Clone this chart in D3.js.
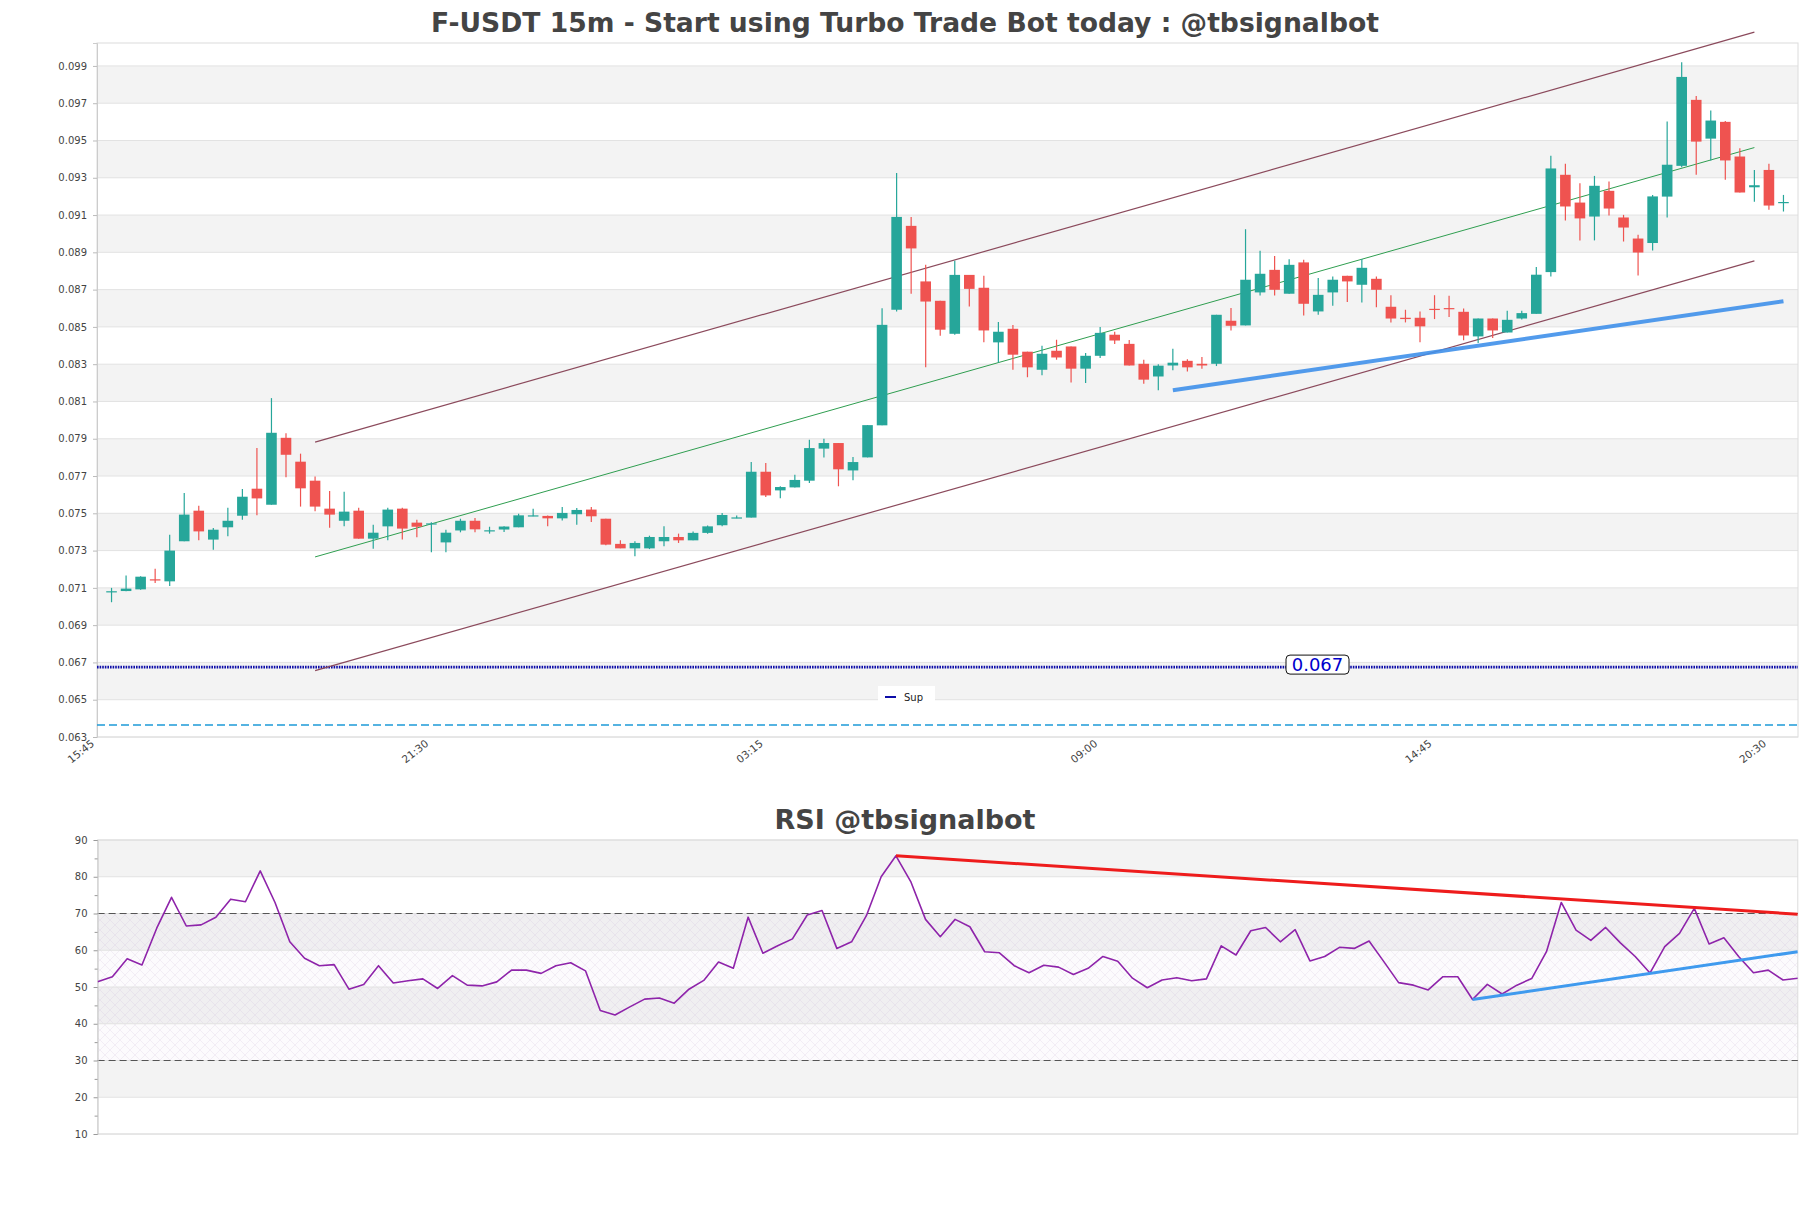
<!DOCTYPE html>
<html>
<head>
<meta charset="utf-8">
<script src="https://cdn.jsdelivr.net/npm/d3@7"></script>
<style>
  html, body { margin: 0; padding: 0; background: #fff; }
  svg { display: block; font-family: "DejaVu Sans", sans-serif; }
</style>
</head>
<body>
<svg id="chart" width="1811" height="1208"></svg>
<script>
// ---------------- DATA ----------------
const opens = [0.0708,0.07083,0.07092,0.07146,0.07135,0.0735,0.07514,0.07359,0.07425,0.07487,
0.07632,0.07546,0.07905,0.07777,0.07675,0.07525,0.0746,0.07514,0.07364,0.0743,
0.07525,0.0745,0.0744,0.07344,0.07408,0.0746,0.07404,0.07413,0.07425,0.07486,
0.07486,0.07473,0.07495,0.0752,0.07471,0.07336,0.07312,0.07312,0.0735,0.07373,
0.07355,0.07395,0.07436,0.07475,0.07477,0.07723,0.07623,0.07639,0.07675,0.07847,
0.07877,0.0773,0.078,0.07972,0.08592,0.09042,0.08744,0.0864,0.08463,0.08779,
0.0871,0.08417,0.0849,0.08367,0.0827,0.08372,0.08395,0.08276,0.08345,0.08458,
0.08409,0.08302,0.08234,0.08293,0.08318,0.08302,0.08302,0.08533,0.08508,0.08685,
0.08806,0.08678,0.08846,0.08583,0.08685,0.08774,0.08726,0.08758,0.08608,0.08549,
0.08549,0.08597,0.08601,0.08581,0.08449,0.08545,0.0847,0.08545,0.0857,0.08794,
0.09316,0.09167,0.09092,0.0923,0.09087,0.08974,0.0895,0.09199,0.09364,0.09718,
0.0951,0.096,0.09414,0.09249,0.09342,0.09167];
const closes = [0.07082,0.07096,0.0716,0.07141,0.073,0.07493,0.07403,0.07412,0.0746,0.07589,
0.0758,0.07932,0.07814,0.07634,0.07536,0.07493,0.07509,0.07364,0.07396,0.0752,
0.07418,0.07428,0.07446,0.07396,0.0746,0.07414,0.07409,0.07429,0.07489,0.07489,
0.07473,0.07502,0.07518,0.07484,0.07332,0.07312,0.07341,0.07373,0.07373,0.07355,
0.07395,0.0743,0.07491,0.07478,0.07723,0.07596,0.07641,0.07679,0.0785,0.07877,
0.07736,0.07775,0.07973,0.08511,0.0909,0.08921,0.08636,0.08485,0.08779,0.08704,
0.08481,0.08474,0.08351,0.08283,0.08356,0.08336,0.08276,0.08345,0.08468,0.08427,
0.08293,0.08217,0.08292,0.08308,0.08283,0.08293,0.08565,0.08506,0.08753,0.08785,
0.08699,0.08833,0.08624,0.08672,0.08753,0.08744,0.08817,0.08699,0.08545,0.08542,
0.08503,0.08594,0.08597,0.08454,0.08545,0.08481,0.08538,0.08574,0.0878,0.0935,
0.09146,0.09082,0.09257,0.09135,0.09033,0.08899,0.092,0.0937,0.09841,0.09494,
0.09607,0.09393,0.09221,0.0926,0.09151,0.0917];
const highs = [0.071,0.07166,0.07162,0.07203,0.07385,0.07609,0.07541,0.07421,0.0753,0.0763,
0.0785,0.08118,0.0793,0.0782,0.07698,0.0762,0.07616,0.0753,0.07439,0.0753,
0.0753,0.07466,0.07452,0.07412,0.07471,0.07475,0.07428,0.0743,0.07498,0.07525,
0.07488,0.07534,0.07529,0.07534,0.07471,0.07355,0.0735,0.0738,0.0743,0.07391,
0.07403,0.07434,0.07502,0.07488,0.07775,0.0777,0.07645,0.07707,0.07895,0.079,
0.07877,0.07802,0.07973,0.086,0.09325,0.0909,0.08833,0.0864,0.08855,0.08779,
0.08774,0.08526,0.0851,0.08367,0.08399,0.08431,0.08395,0.0836,0.08499,0.08474,
0.0843,0.08324,0.08299,0.08383,0.08327,0.08338,0.08565,0.08601,0.09024,0.08908,
0.08881,0.08863,0.0886,0.08762,0.08771,0.08774,0.08864,0.08771,0.0867,0.08592,
0.08583,0.0867,0.08667,0.08599,0.08545,0.08545,0.08587,0.08587,0.08821,0.09418,
0.09375,0.09271,0.0931,0.0928,0.09101,0.08994,0.09208,0.09602,0.0992,0.09739,
0.09661,0.09605,0.09459,0.09342,0.09375,0.09208];
const lows = [0.07023,0.07082,0.0709,0.07126,0.0711,0.0735,0.07355,0.07305,0.07377,0.07466,
0.07489,0.07546,0.07693,0.07536,0.07511,0.07423,0.0743,0.07364,0.0731,0.07355,
0.07359,0.07371,0.07291,0.07291,0.07398,0.07398,0.07391,0.074,0.07425,0.07484,
0.0743,0.07462,0.07439,0.07454,0.07328,0.07312,0.0727,0.07308,0.07323,0.07341,
0.07355,0.07391,0.0743,0.07474,0.07477,0.07588,0.07581,0.07639,0.07663,0.078,
0.07645,0.07677,0.078,0.07972,0.08583,0.08678,0.08283,0.08452,0.08458,0.0861,
0.08417,0.08309,0.0827,0.0823,0.0824,0.08324,0.08202,0.08199,0.08333,0.08408,
0.08293,0.08195,0.0816,0.08267,0.08261,0.08276,0.0829,0.08481,0.08508,0.08669,
0.08669,0.08678,0.08561,0.08565,0.08613,0.08633,0.08631,0.08606,0.08524,0.08524,
0.08417,0.08542,0.08553,0.08428,0.08413,0.0844,0.0847,0.0854,0.0857,0.08771,
0.09071,0.08964,0.08964,0.09098,0.08958,0.08776,0.0891,0.09087,0.09357,0.09316,
0.09393,0.09289,0.09221,0.09171,0.09128,0.09119];
const rsi = [51.4,52.8,57.7,56.0,66.0,74.4,66.6,66.9,69.0,73.9,
73.2,81.6,73.0,62.3,57.8,55.8,56.1,49.4,50.7,55.8,
51.1,51.7,52.2,49.6,53.1,50.5,50.3,51.4,54.6,54.6,
53.7,55.8,56.6,54.4,43.6,42.4,44.6,46.7,47.0,45.6,
49.4,51.8,56.8,55.1,69.0,59.2,61.2,63.1,69.6,70.8,
60.5,62.3,69.4,80.0,85.7,78.7,68.4,63.7,68.4,66.4,
59.6,59.3,55.8,53.9,55.9,55.4,53.4,55.1,58.3,57.0,
52.4,49.8,51.9,52.5,51.7,52.2,61.2,58.7,65.3,66.2,
62.3,65.6,57.1,58.3,60.8,60.5,62.5,56.9,51.2,50.5,
49.2,52.8,52.8,46.6,50.7,48.1,50.5,52.3,59.6,73.0,
65.5,62.7,66.2,62.0,58.3,53.8,61.0,64.6,71.4,61.7,
63.4,58.3,53.9,54.6,51.9,52.4];

// x tick labels (candle index: 0 = 16:00, 15-minute bars)
const xTickIndex = [-1, 22, 45, 68, 91, 114];
const xTickLabels = ["15:45", "21:30", "03:15", "09:00", "14:45", "20:30"];
const yTicks = [0.063,0.065,0.067,0.069,0.071,0.073,0.075,0.077,0.079,0.081,0.083,0.085,0.087,0.089,0.091,0.093,0.095,0.097,0.099];
const rsiTicks = [10,20,30,40,50,60,70,80,90];
const rsiMinorTicks = [15,25,35,45,55,65,75,85];

// trend lines [index, price]
const channelUpper = [[14, 0.07882], [113, 0.10081]];
const channelMid   = [[14, 0.07266], [113, 0.09462]];
const channelLower = [[14, 0.06656], [113, 0.08854]];
const supportLine  = [[73, 0.0816], [115, 0.08638]];
const supLevel = 0.06675;
const supLabel = "0.067";
const cyanLevel = 0.06364;
const rsiRedLine = [[54, 85.7], [115, 69.8]];
const rsiBlueLine = [[93, 46.6], [115, 59.6]];

// ---------------- LAYOUT ----------------
const svg = d3.select("#chart");
const FONT = "DejaVu Sans, sans-serif";
const M = {left: 97, right: 1798, top: 43, bottom: 737};
const R = {left: 97.6, right: 1797.8, top: 840, bottom: 1134};

const x = d3.scaleLinear().domain([-1, 116]).range([M.left, M.right]);
const y = d3.scaleLinear().domain([0.063, 0.10023]).range([M.bottom, M.top]);
const xr = d3.scaleLinear().domain([0, 115]).range([R.left, R.right]);
const yr = d3.scaleLinear().domain([10, 90]).range([R.bottom, R.top]);

svg.append("rect").attr("width", 1811).attr("height", 1208).attr("fill", "#fff");

// defs
const defs = svg.append("defs");
const pat = defs.append("pattern").attr("id", "hatch").attr("patternUnits", "userSpaceOnUse")
  .attr("width", 10).attr("height", 10);
pat.append("path").attr("d", "M0,0 L10,10 M10,0 L0,10")
  .attr("stroke", "rgba(200,175,212,0.32)").attr("stroke-width", 0.6).attr("fill", "none");
defs.append("clipPath").attr("id", "clipMain").append("rect")
  .attr("x", M.left).attr("y", 0).attr("width", M.right - M.left).attr("height", M.bottom);
defs.append("clipPath").attr("id", "clipRsi").append("rect")
  .attr("x", R.left).attr("y", R.top).attr("width", R.right - R.left).attr("height", R.bottom - R.top);

// ---------------- MAIN PANEL ----------------
svg.append("text").attr("x", 905).attr("y", 32).attr("text-anchor", "middle")
  .attr("font-family", FONT).attr("font-size", 26.6).attr("font-weight", "bold").attr("fill", "#444")
  .text("F-USDT 15m - Start using Turbo Trade Bot today : @tbsignalbot");

const gMain = svg.append("g");
// bands
for (let k = 0; k < yTicks.length - 1; k++) {
  if (k % 2 === 1) {
    gMain.append("rect").attr("x", M.left).attr("width", M.right - M.left)
      .attr("y", y(yTicks[k + 1])).attr("height", y(yTicks[k]) - y(yTicks[k + 1]))
      .attr("fill", "#f3f3f3");
  }
}
// gridlines
gMain.selectAll("line.grid").data(yTicks).enter().append("line")
  .attr("x1", M.left).attr("x2", M.right).attr("y1", d => y(d)).attr("y2", d => y(d))
  .attr("stroke", "#e2e2e2").attr("stroke-width", 1);
// frame
gMain.append("rect").attr("x", M.left).attr("y", M.top).attr("width", M.right - M.left)
  .attr("height", M.bottom - M.top).attr("fill", "none").attr("stroke", "#dcdcdc");

// y axis
const yAxis = svg.append("g").attr("transform", `translate(${M.left},0)`)
  .call(d3.axisLeft(y).tickValues(yTicks).tickFormat(d3.format(".3f")).tickSize(4).tickPadding(6));
yAxis.select(".domain").attr("stroke", "#ccc");
yAxis.selectAll(".tick line").attr("stroke", "#bbb");
yAxis.selectAll("text").attr("font-family", FONT).attr("font-size", 10).attr("fill", "#444");

// x axis labels
const xAxisG = svg.append("g");
xTickIndex.forEach((d, k) => {
  xAxisG.append("text").attr("transform", `translate(${x(d) - 2},${M.bottom + 8}) rotate(-38)`)
    .attr("text-anchor", "end").attr("font-family", FONT).attr("font-size", 10.5).attr("fill", "#444")
    .text(xTickLabels[k]);
});

// horizontal levels
const gLev = svg.append("g").attr("clip-path", "url(#clipMain)");
gLev.append("line").attr("x1", M.left).attr("x2", M.right).attr("y1", y(cyanLevel)).attr("y2", y(cyanLevel))
  .attr("stroke", "#1e9bd7").attr("stroke-width", 1.4).attr("stroke-dasharray", "8,4");
gLev.append("line").attr("x1", M.left).attr("x2", M.right).attr("y1", y(supLevel)).attr("y2", y(supLevel))
  .attr("stroke", "#0d0da8").attr("stroke-width", 2.8).attr("stroke-dasharray", "1.6,1");

// channel lines
const line = d3.line().x(d => x(d[0])).y(d => y(d[1]));
gLev.append("path").attr("d", line(channelUpper)).attr("stroke", "#8b4a5c").attr("stroke-width", 1.2).attr("fill", "none");
gLev.append("path").attr("d", line(channelLower)).attr("stroke", "#8b4a5c").attr("stroke-width", 1.2).attr("fill", "none");
gLev.append("path").attr("d", line(channelMid)).attr("stroke", "#2f9e50").attr("stroke-width", 1).attr("fill", "none");
gLev.append("path").attr("d", line(supportLine)).attr("stroke", "#3f90ea").attr("stroke-opacity", 0.9)
  .attr("stroke-width", 4).attr("fill", "none");

// candles
const UP = "#26a69a", DOWN = "#ef5350";
const bw = 10.6;
const gC = svg.append("g");
opens.forEach((o, i) => {
  const c = closes[i], col = c >= o ? UP : DOWN;
  gC.append("line").attr("x1", x(i)).attr("x2", x(i)).attr("y1", y(highs[i])).attr("y2", y(lows[i]))
    .attr("stroke", col).attr("stroke-width", 1.2);
  const top = y(Math.max(o, c)), bot = y(Math.min(o, c));
  gC.append("rect").attr("x", x(i) - bw / 2).attr("width", bw)
    .attr("y", top).attr("height", Math.max(1.2, bot - top)).attr("fill", col);
});

// sup label
const lx = 1317.5, ly = y(supLevel) - 2.5;
svg.append("rect").attr("x", lx - 31.5).attr("y", ly - 9.5).attr("width", 63).attr("height", 19)
  .attr("rx", 4).attr("fill", "#fff").attr("stroke", "#111").attr("stroke-width", 1);
svg.append("text").attr("x", lx).attr("y", ly + 6.5).attr("text-anchor", "middle")
  .attr("font-family", FONT).attr("font-size", 18).attr("fill", "#0000cc").text(supLabel);

// legend
const lg = svg.append("g");
lg.append("rect").attr("x", 878).attr("y", 686).attr("width", 57).attr("height", 16).attr("fill", "#fff");
lg.append("line").attr("x1", 885).attr("x2", 896).attr("y1", 697).attr("y2", 697)
  .attr("stroke", "#0d0da8").attr("stroke-width", 2);
lg.append("text").attr("x", 904).attr("y", 701).attr("font-family", FONT).attr("font-size", 10)
  .attr("fill", "#222").text("Sup");

// ---------------- RSI PANEL ----------------
svg.append("text").attr("x", 905).attr("y", 829).attr("text-anchor", "middle")
  .attr("font-family", FONT).attr("font-size", 27).attr("font-weight", "bold").attr("fill", "#444")
  .text("RSI @tbsignalbot");

const gR = svg.append("g");
[[80, 90], [60, 70], [40, 50], [20, 30]].forEach(b => {
  gR.append("rect").attr("x", R.left).attr("width", R.right - R.left)
    .attr("y", yr(b[1])).attr("height", yr(b[0]) - yr(b[1])).attr("fill", "#f3f3f3");
});
gR.append("rect").attr("x", R.left).attr("width", R.right - R.left)
  .attr("y", yr(70)).attr("height", yr(30) - yr(70)).attr("fill", "rgba(205,180,220,0.05)");
gR.append("rect").attr("x", R.left).attr("width", R.right - R.left)
  .attr("y", yr(70)).attr("height", yr(30) - yr(70)).attr("fill", "url(#hatch)");
gR.selectAll("line.g").data(rsiTicks).enter().append("line")
  .attr("x1", R.left).attr("x2", R.right).attr("y1", d => yr(d)).attr("y2", d => yr(d))
  .attr("stroke", "#e2e2e2");
gR.append("rect").attr("x", R.left).attr("y", R.top).attr("width", R.right - R.left)
  .attr("height", R.bottom - R.top).attr("fill", "none").attr("stroke", "#dcdcdc");
[70, 30].forEach(v => {
  gR.append("line").attr("x1", R.left).attr("x2", R.right).attr("y1", yr(v)).attr("y2", yr(v))
    .attr("stroke", "#555").attr("stroke-width", 1.2).attr("stroke-dasharray", "7,4");
});

const rAxis = svg.append("g").attr("transform", `translate(${R.left},0)`)
  .call(d3.axisLeft(yr).tickValues(rsiTicks).tickSize(4).tickPadding(6));
rAxis.select(".domain").attr("stroke", "#ccc");
rAxis.selectAll(".tick line").attr("stroke", "#999");
rAxis.selectAll("text").attr("font-family", FONT).attr("font-size", 10).attr("fill", "#444");
const rMinor = svg.append("g").attr("transform", `translate(${R.left},0)`)
  .call(d3.axisLeft(yr).tickValues(rsiMinorTicks).tickSize(3).tickFormat(""));
rMinor.select(".domain").remove();
rMinor.selectAll(".tick line").attr("stroke", "#999");

const gRL = svg.append("g").attr("clip-path", "url(#clipRsi)");
gRL.append("path").datum(rsi)
  .attr("d", d3.line().x((d, i) => xr(i)).y(d => yr(d)))
  .attr("fill", "none").attr("stroke", "#8e24aa").attr("stroke-width", 1.6).attr("stroke-linejoin", "round");
const rline = d3.line().x(d => xr(d[0])).y(d => yr(d[1]));
gRL.append("path").attr("d", rline(rsiRedLine)).attr("stroke", "#ee1c1c").attr("stroke-width", 3).attr("fill", "none");
gRL.append("path").attr("d", rline(rsiBlueLine)).attr("stroke", "#3f9aee").attr("stroke-width", 3).attr("fill", "none");
</script>
</body>
</html>
